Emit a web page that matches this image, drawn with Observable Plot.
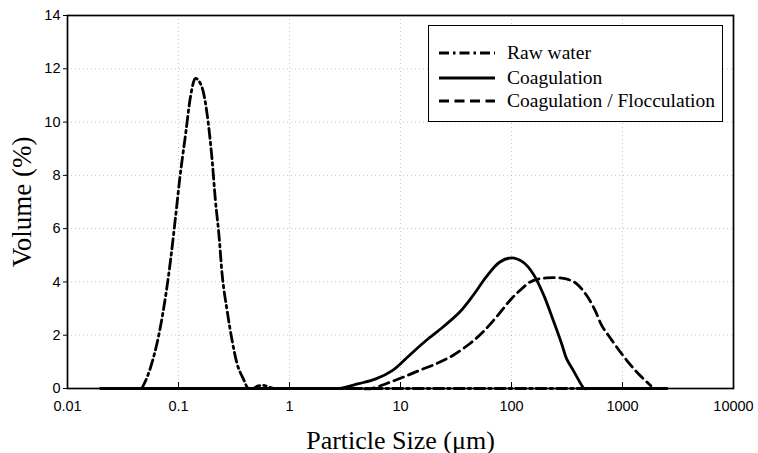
<!DOCTYPE html>
<html>
<head>
<meta charset="utf-8">
<script src="https://cdn.jsdelivr.net/npm/d3@7"></script>
<script src="https://cdn.jsdelivr.net/npm/@observablehq/plot@0.6"></script>
<style>
  html, body { margin: 0; padding: 0; background: #fff; }
  #wrap { position: relative; width: 758px; height: 453px; }
  #legend { position: absolute; left: 428px; top: 25px; width: 295px; height: 97px;
    border: 1.5px solid #000; background: #fff; box-sizing: border-box;
    font-family: "Liberation Serif", "Times New Roman", serif; font-size: 19.5px; color: #000; }
  #legend .row { position: absolute; left: 9px; height: 24px; display: flex; align-items: center; }
  #legend svg { width: 58px; height: 10px; margin-right: 11px; }
</style>
</head>
<body>
<div id="wrap"></div>
<script>
// ---- data ----
const seriesNames = ["Raw water", "Coagulation", "Coagulation / Flocculation"];

const rawSize = [0.02, 0.03, 0.046, 0.05, 0.056, 0.0713, 0.0847, 0.094, 0.103, 0.116, 0.128, 0.142, 0.163, 0.181, 0.201, 0.215, 0.231, 0.247, 0.274, 0.304, 0.337, 0.38, 0.43, 0.47, 0.52, 0.58, 0.65, 0.72, 1, 10, 100, 1000, 2500];
const rawVol  = [0, 0, 0, 0.25, 0.79, 2.68, 4.8, 6.43, 7.93, 9.56, 10.93, 11.64, 11.3, 10.3, 8.56, 7.06, 5.8, 4.3, 2.93, 1.8, 0.93, 0.4, 0, 0, 0.1, 0.12, 0.06, 0, 0, 0, 0, 0, 0];

const coagSize = [0.02, 1, 2.2, 2.8, 4.2, 6.0, 8.5, 12, 17, 24, 34, 45, 59, 78, 100, 127, 157, 193, 238, 283, 314, 360, 430, 450, 500, 1000, 2500];
const coagVol  = [0, 0, 0, 0, 0.18, 0.36, 0.68, 1.24, 1.8, 2.3, 2.86, 3.49, 4.18, 4.74, 4.9, 4.74, 4.3, 3.55, 2.55, 1.68, 1.11, 0.68, 0.11, 0, 0, 0, 0];

const flocSize = [0.02, 1, 4, 5.5, 7.4, 10.5, 14.8, 21, 29.6, 42, 55, 73, 100, 119, 146, 180, 207, 240, 273, 330, 387, 476, 566, 651, 748, 889, 1096, 1350, 1660, 1800];
const flocVol  = [0, 0, 0, 0, 0.18, 0.42, 0.68, 0.93, 1.24, 1.68, 2.11, 2.68, 3.37, 3.68, 3.99, 4.12, 4.15, 4.16, 4.15, 4.08, 3.93, 3.49, 2.93, 2.36, 1.99, 1.55, 1.05, 0.61, 0.24, 0.1];

const xTicks = [0.01, 0.1, 1, 10, 100, 1000, 10000];
const xTickLabels = ["0.01", "0.1", "1", "10", "100", "1000", "10000"];
const yTicks = [0, 2, 4, 6, 8, 10, 12, 14];

const dashes = ["10,4,2.5,4", null, "10,5.5"];

const toRows = (xs, ys) => xs.map((x, i) => ({x, y: ys[i]}));
const rawRows = toRows(rawSize, rawVol);
const coagRows = toRows(coagSize, coagVol);
const flocRows = toRows(flocSize, flocVol);

const tickFont = "Liberation Sans, Arial, sans-serif";
const titleFont = "Liberation Serif, Times New Roman, serif";

const chart = Plot.plot({
  width: 758,
  height: 453,
  marginLeft: 67,
  marginRight: 25,
  marginTop: 15,
  marginBottom: 65,
  style: { background: "#fff", color: "#000" },
  x: { type: "log", domain: [0.01, 10000] },
  y: { domain: [0, 14] },
  marks: [
    Plot.gridX(xTicks, { stroke: "#999", strokeOpacity: 0.55, strokeDasharray: "1,3" }),
    Plot.gridY(yTicks, { stroke: "#999", strokeOpacity: 0.55, strokeDasharray: "1,3" }),
    Plot.line(rawRows, { x: "x", y: "y", stroke: "#000", strokeWidth: 2.8, strokeDasharray: dashes[0], curve: "monotone-x" }),
    Plot.line(coagRows, { x: "x", y: "y", stroke: "#000", strokeWidth: 2.8, curve: "catmull-rom" }),
    Plot.line(flocRows, { x: "x", y: "y", stroke: "#000", strokeWidth: 2.8, strokeDasharray: dashes[2], curve: "catmull-rom" }),
    Plot.frame({ stroke: "#000", strokeWidth: 1.7 }),
    Plot.axisX(xTicks, {
      tickSize: -6, tickPadding: 18,
      tickFormat: (d) => xTickLabels[xTicks.indexOf(d)],
      fontSize: 14.5, fontFamily: tickFont,
      label: null
    }),
    Plot.axisY(yTicks, {
      tickSize: 4, tickPadding: 3,
      fontSize: 14.5, fontFamily: tickFont,
      label: null
    }),
    Plot.text(["Particle Size (\u03bcm)"], {
      frameAnchor: "bottom", dy: 60, fontSize: 26, textAnchor: "middle",
      fontFamily: titleFont, fill: "#000"
    }),
    Plot.text(["Volume (%)"], {
      frameAnchor: "left", dx: -45, rotate: -90, fontSize: 27, textAnchor: "middle",
      fontFamily: titleFont, fill: "#000"
    })
  ]
});

const wrap = document.getElementById("wrap");
wrap.appendChild(chart);

// legend
const legend = document.createElement("div");
legend.id = "legend";
const rowCenters = [27, 52, 75];
seriesNames.forEach((name, i) => {
  const row = document.createElement("div");
  row.className = "row";
  row.style.top = (rowCenters[i] - 12) + "px";
  const dash = dashes[i] ? `stroke-dasharray="${dashes[i]}"` : "";
  row.innerHTML = `<svg viewBox="0 0 58 10"><line x1="1" y1="5" x2="57" y2="5" stroke="#000" stroke-width="3" ${dash}/></svg><span>${name}</span>`;
  legend.appendChild(row);
});
wrap.appendChild(legend);
</script>
</body>
</html>
